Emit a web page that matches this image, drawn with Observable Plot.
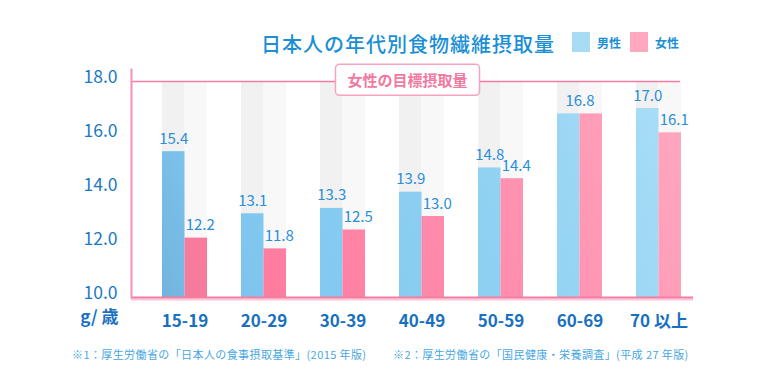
<!DOCTYPE html>
<html><head><meta charset="utf-8">
<script src="https://cdn.jsdelivr.net/npm/d3@7"></script>
<script src="https://cdn.jsdelivr.net/npm/@observablehq/plot@0.6"></script>
<style>
body{margin:0;background:#fff;font-family:"Noto Sans CJK JP",sans-serif;}
#wrap{position:relative;width:760px;height:390px;overflow:hidden;background:#fff}
#wrap svg{position:absolute;left:0;top:0}
.title{position:absolute;left:261px;top:29px;font-size:20px;letter-spacing:1px;color:#1a8fd6;font-weight:500;line-height:30px;white-space:nowrap}
.legend{position:absolute;top:32px;left:572px;display:flex;align-items:center;font-size:12px;font-weight:700;color:#1a8fd6;white-space:nowrap}
.legend .sw{width:18px;height:20px;display:inline-block;margin-right:7px}
.legend .item{display:flex;align-items:center;margin-right:9px}
.note{position:absolute;top:346px;font-size:11px;letter-spacing:0.4px;color:#47a7e2;white-space:nowrap;line-height:16px}
</style></head>
<body>
<div id="wrap"></div>
<script>
const ages = ["15-19","20-29","30-39","40-49","50-59","60-69","70 以上"];
const male = [15.4,13.1,13.3,13.9,14.8,16.8,17.0];
const female = [12.2,11.8,12.5,13.0,14.4,16.8,16.1];
const yTicks = [10,12,14,16,18];
const target = 18;
const targetLabel = "女性の目標摂取量";
const seriesNames = ["男性","女性"];
const seriesColors = ["#a8dcf5","#ffa8c0"];
const titleText = "日本人の年代別食物繊維摂取量";
const unitLabel = "g/ 歳";
const notes = ["※1：厚生労働省の「日本人の食事摂取基準」(2015 年版)","※2：厚生労働省の「国民健康・栄養調査」(平成 27 年版)"];

const rows = ages.map((a,i)=>({age:a, male:male[i], female:female[i]}));
const yMin = yTicks[0];
const half = 22.5;
const labelColor = "#2a8ed8";
const pink = "#f27ca2";

const plot = Plot.plot({
  width:760, height:390,
  marginLeft:131, marginRight:67, marginTop:81, marginBottom:93,
  style:{fontFamily:"'Noto Sans CJK JP', sans-serif", background:"transparent"},
  x:{domain:ages, paddingInner:0.43, paddingOuter:0.27, align:0.73},
  y:{domain:[yMin,target]},
  marks:[
    Plot.barY(rows,{x:"age", y1:yMin, y2:target, fill:"#f1f1f1", insetRight:half}),
    Plot.barY(rows,{x:"age", y1:yMin, y2:target, fill:"#f8f8f8", insetLeft:half}),
    Plot.barY(rows,{x:"age", y1:yMin, y2:"male", fill:"url(#gradM)", insetRight:half}),
    Plot.barY(rows,{x:"age", y1:yMin, y2:"female", fill:"url(#gradF)", insetLeft:half}),
    Plot.ruleY([target],{stroke:pink, strokeWidth:1.5, insetRight:13}),
    Plot.ruleY([yMin],{stroke:"#ffc6d8", strokeWidth:2, dy:2}),
    Plot.ruleY([yMin],{stroke:pink, strokeWidth:2}),
    Plot.frame({anchor:"left", stroke:"#f590b4", strokeWidth:2, insetTop:-12}),
    Plot.axisY({ticks:yTicks, tickFormat:d3.format(".1f"), tickSize:0, tickPadding:14, fontSize:17.5, color:"#1a78c4", label:null, dy:-4}),
    Plot.axisX({tickSize:0, tickPadding:17, fontSize:17, fontWeight:"bold", color:"#1a70c0", label:null}),
    Plot.text(rows.filter(d=>d.male!==d.female),{x:"age", y:"male", text:d=>d.male.toFixed(1), dx:-half/2, dy:-8, lineAnchor:"bottom", fill:labelColor, fontSize:15}),
    Plot.text(rows.filter(d=>d.male!==d.female),{x:"age", y:"female", text:d=>d.female.toFixed(1), dx:half/2+4, dy:-8, lineAnchor:"bottom", fill:labelColor, fontSize:15}),
    Plot.text(rows.filter(d=>d.male===d.female),{x:"age", y:"male", text:d=>d.male.toFixed(1), dy:-8, lineAnchor:"bottom", fill:labelColor, fontSize:15}),
    Plot.text([targetLabel],{y:()=>target, text:d=>d, dx:-5, fill:"#f07aa0", fontSize:15, fontWeight:"bold", className:"tlabel"}),
    Plot.text([unitLabel],{frameAnchor:"bottom-left", text:d=>d, textAnchor:"end", dx:-13, dy:25, fill:"#1a70c0", fontSize:17, fontWeight:"bold"})
  ]
});

const wrap = document.getElementById("wrap");
wrap.appendChild(plot);

// gradients spanning the chart diagonal (from scales)
const xr = plot.scale("x").range, yr = plot.scale("y").range;
const svg = d3.select(plot);
const defs = svg.insert("defs",":first-child");
function grad(id, stops){
  const g = defs.append("linearGradient").attr("id",id).attr("gradientUnits","userSpaceOnUse")
    .attr("x1",xr[0]).attr("y1",yr[0]).attr("x2",xr[1]).attr("y2",yr[1]);
  stops.forEach(([o,c])=>g.append("stop").attr("offset",o).attr("stop-color",c));
}
grad("gradM",[[0,"#6eaed8"],[0.2,"#7fc6ef"],[0.6,"#8fd1f2"],[1,"#acdff7"]]);
grad("gradF",[[0,"#ea7b99"],[0.2,"#ff7b9e"],[0.6,"#ff8eae"],[1,"#ffaac2"]]);

// rounded box behind target label
const t = plot.querySelector(".tlabel text");
if (t){
  const b = t.getBBox();
  const px=12, py=5;
  const r = d3.select(t.parentNode).insert("rect","text")
    .attr("x",b.x-px).attr("y",b.y-py).attr("width",b.width+2*px).attr("height",b.height+2*py)
    .attr("rx",4).attr("fill","#fff").attr("stroke","#f7a3c0").attr("stroke-width",1.5);
  if (t.getAttribute("transform")) r.attr("transform", t.getAttribute("transform"));
}

// title, legend, notes
const title = document.createElement("div"); title.className="title"; title.textContent=titleText; wrap.appendChild(title);
const leg = document.createElement("div"); leg.className="legend";
seriesNames.forEach((n,i)=>{
  const it=document.createElement("span"); it.className="item";
  const sw=document.createElement("span"); sw.className="sw"; sw.style.background=seriesColors[i];
  it.appendChild(sw); it.appendChild(document.createTextNode(n)); leg.appendChild(it);
});
wrap.appendChild(leg);
const noteLeft=[72,393];
notes.forEach((n,i)=>{const d=document.createElement("div"); d.className="note"; d.style.left=noteLeft[i]+"px"; d.textContent=n; wrap.appendChild(d);});
</script>
</body></html>
